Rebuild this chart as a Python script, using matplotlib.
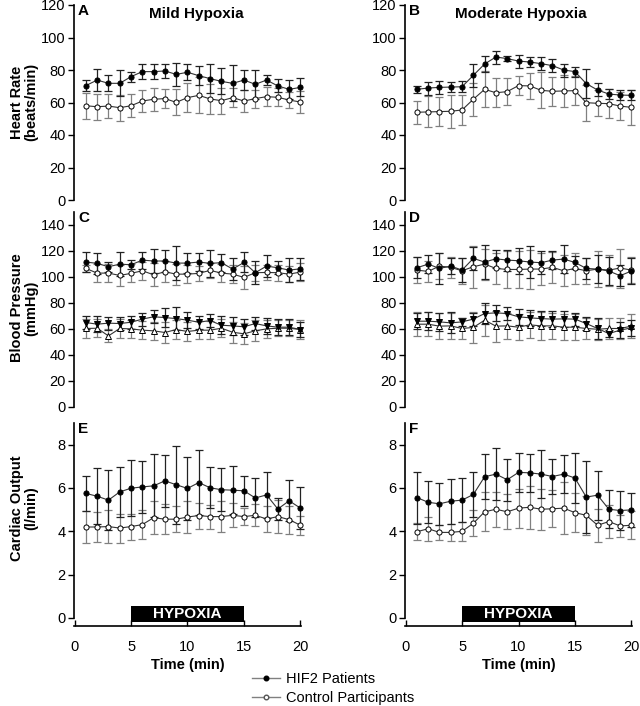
import matplotlib
matplotlib.use("Agg")
import matplotlib.pyplot as plt
from matplotlib.lines import Line2D
import numpy as np

plt.rcParams['font.family'] = ['Liberation Sans', 'DejaVu Sans']

time = list(range(1, 21))

# Heart rate (beats/min)
hr_mild_hif2 = [70.4, 73.8, 71.8, 71.8, 75.9, 79, 79, 79.4, 77.3, 78.6, 76.5, 74.7, 73, 71.8, 73.8, 71.2, 73.8, 70.2, 68.1, 69.3]
hr_mild_hif2_err = [3.5, 7, 5, 8, 3, 4.5, 4.5, 4.5, 7, 5, 6, 9, 8, 11, 6, 9, 3, 4, 6, 5.5]
hr_mild_ctrl = [58, 57.4, 57.8, 56.8, 58, 60.9, 62, 62.4, 60.1, 63, 64.4, 62.2, 61.1, 63, 60.9, 62.4, 63.6, 63.2, 61.5, 60.3]
hr_mild_ctrl_err = [8, 8, 7.5, 8, 7, 7, 7, 6, 8, 9, 11, 9, 8, 6, 7, 5.5, 6, 5.5, 5, 7]
hr_mod_hif2 = [68.1, 68.9, 69.3, 69.5, 69.7, 76.7, 83.7, 88, 87, 85.5, 84.9, 83.9, 82.7, 80, 79, 71.6, 67.7, 65.2, 64.6, 64.4]
hr_mod_hif2_err = [2, 4, 4, 3, 3.5, 7, 5, 4, 1.5, 4, 3, 4, 4, 4, 3, 9, 4, 3, 3, 3]
hr_mod_ctrl = [54, 54.2, 54.4, 54.6, 55.4, 62, 68.1, 66, 66.7, 70.4, 70.2, 67.5, 66.9, 67.1, 67.3, 59.9, 59.5, 59.3, 57.8, 57]
hr_mod_ctrl_err = [7, 9.5, 9, 10, 9, 10, 11, 9, 8.5, 6, 8, 11, 9, 10, 9, 11, 8, 9, 8.5, 11]

# Blood pressure (mmHg)
sbp_mild_hif2 = [111.5, 110.5, 107.9, 109.9, 109.4, 113, 112.3, 112.3, 110.7, 110.7, 111.5, 110.5, 111, 106.1, 111.2, 103.3, 108.4, 107.1, 105.3, 106.3]
sbp_mild_hif2_err = [8, 8, 4, 9.5, 3.5, 6.5, 9, 8.5, 13, 8, 7, 10.5, 7, 8.7, 7.7, 9, 8.5, 5, 9, 8.7]
sbp_mild_ctrl = [106.6, 103, 103, 101.2, 102.8, 104.8, 101.7, 104, 102.2, 102.2, 102.8, 105.1, 103, 102.2, 99.7, 103.3, 103.5, 103.3, 102.2, 103.8]
sbp_mild_ctrl_err = [3, 7, 7, 8, 7, 7, 9, 8, 8, 7, 6, 6, 7, 7, 9, 6, 6, 6, 6, 7]
dbp_mild_hif2 = [65, 63.7, 64.5, 64.2, 65.2, 67.6, 69.4, 68.8, 68, 66.8, 65.2, 66.5, 62.9, 62.4, 61.7, 64.2, 62.4, 61.4, 61.4, 59.6]
dbp_mild_hif2_err = [5, 6, 5, 5, 5, 5, 5, 7, 9, 6, 5, 5, 7, 7, 6, 5, 6, 6, 6, 6]
dbp_mild_ctrl = [60.4, 60.6, 54.7, 60.4, 60.1, 59.1, 58.6, 57.3, 59.6, 58.1, 59.1, 59.1, 60.6, 57.5, 56.3, 58.6, 60.1, 60.6, 60.6, 59.6]
dbp_mild_ctrl_err = [7, 7, 5, 7, 7, 7, 7, 8, 7, 7, 7, 7, 7, 8, 8, 8, 7, 6, 6, 7]
sbp_mod_hif2 = [107.1, 109.9, 106.6, 108.4, 105.3, 114.3, 111.5, 114, 113, 112.5, 111.5, 111, 113, 113.8, 111.2, 106.6, 106.1, 104.6, 101, 104.6]
sbp_mod_hif2_err = [8, 7, 12, 6, 9, 9, 13, 7, 8, 10, 12, 9, 7, 11, 5, 8, 11, 11, 8, 10]
sbp_mod_ctrl = [105.3, 104.3, 108.4, 107.4, 104.8, 107.9, 109.9, 106.6, 105.8, 105.8, 106.1, 106.1, 107.4, 104.8, 106.6, 104.8, 106.1, 105.3, 106.9, 105.3]
sbp_mod_ctrl_err = [10, 8, 10, 8, 10, 16, 12, 12, 14, 14, 15, 12, 12, 12, 12, 10, 14, 12, 15, 10]
dbp_mod_hif2 = [66, 66, 65.5, 64.7, 65.5, 67.6, 71.9, 72.4, 71.9, 69.4, 68.6, 68, 67.6, 67.8, 67.6, 64.2, 60.4, 56.5, 59.1, 60.9]
dbp_mod_hif2_err = [6, 7, 7, 8, 3, 5, 8, 6, 5, 6, 6, 6, 6, 6, 5, 5, 8, 3, 6, 6]
dbp_mod_ctrl = [63.7, 63.7, 62.2, 62.4, 60.4, 61.2, 66.8, 62.2, 62.4, 61.4, 63.2, 62.4, 62.4, 61.4, 61.4, 60.4, 59.8, 60.4, 60.4, 62.2]
dbp_mod_ctrl_err = [9, 9, 10, 10, 8, 12, 12, 12, 10, 10, 10, 11, 10, 10, 10, 8, 8, 8, 8, 9]

# Cardiac output (l/min)
co_mild_hif2 = [5.75, 5.62, 5.44, 5.82, 5.99, 6.05, 6.10, 6.33, 6.15, 5.98, 6.25, 6.01, 5.92, 5.90, 5.87, 5.54, 5.68, 5.03, 5.41, 5.07]
co_mild_hif2_err = [0.8, 1.3, 1.4, 1.15, 1.3, 1.2, 1.45, 1.2, 1.8, 1.45, 1.5, 0.95, 1.0, 1.1, 0.7, 0.9, 1.05, 0.5, 0.95, 0.97]
co_mild_ctrl = [4.2, 4.2, 4.22, 4.15, 4.22, 4.31, 4.63, 4.56, 4.56, 4.66, 4.73, 4.68, 4.68, 4.74, 4.68, 4.74, 4.57, 4.68, 4.54, 4.28]
co_mild_ctrl_err = [0.75, 0.7, 0.78, 0.67, 0.6, 0.67, 0.75, 0.7, 0.6, 0.75, 0.6, 0.55, 0.7, 0.55, 0.4, 0.5, 0.6, 0.75, 0.65, 0.45]
co_mod_hif2 = [5.56, 5.34, 5.27, 5.39, 5.44, 5.70, 6.52, 6.64, 6.38, 6.72, 6.70, 6.64, 6.53, 6.64, 6.46, 5.58, 5.67, 5.02, 4.96, 4.99]
co_mod_hif2_err = [1.2, 0.96, 0.96, 1.03, 1.02, 1.03, 1.05, 1.2, 0.96, 0.9, 0.87, 1.1, 0.8, 0.88, 1.17, 1.68, 1.13, 0.88, 0.9, 0.8]
co_mod_ctrl = [3.98, 4.12, 3.95, 3.95, 4.0, 4.37, 4.9, 5.02, 4.9, 5.07, 5.11, 5.02, 5.04, 5.07, 4.86, 4.74, 4.28, 4.45, 4.25, 4.28]
co_mod_ctrl_err = [0.4, 0.55, 0.35, 0.4, 0.45, 0.6, 0.9, 0.8, 0.8, 0.9, 1.0, 0.95, 0.85, 1.2, 0.9, 0.9, 0.75, 0.75, 0.5, 0.65]

hypoxia_start, hypoxia_end = 5, 15

W, H = 640, 706
fig = plt.figure(figsize=(W / 100, H / 100), dpi=100)

def ax_px(left, top, right, bottom):
    return fig.add_axes([left / W, 1 - bottom / H, (right - left) / W, (bottom - top) / H])

FS = 10.5
LINE_C = '#333333'

def series(ax, y, err, filled, marker, ecolor):
    ax.errorbar(time, y, yerr=err, fmt='none', ecolor=ecolor, elinewidth=0.9,
                capsize=2.6, capthick=0.9, zorder=2, clip_on=False)
    ax.plot(time, y, color=LINE_C, lw=0.8, marker=marker, ms=3.7 if marker == 'o' else 4.0,
            mfc='black' if filled else 'white', mec='black', mew=0.7, zorder=3, clip_on=False)

def style(ax, ylim, ticks, bottom_axis):
    ax.set_xlim(-0.05, 20.05)
    ax.set_ylim(*ylim)
    ax.set_yticks(ticks)
    for s in ['top', 'right']:
        ax.spines[s].set_visible(False)
    ax.spines['left'].set_linewidth(1.2)
    ax.spines['left'].set_bounds(max(0, ylim[0]), ylim[1])
    ax.tick_params(axis='y', direction='out', length=4, width=1.0, labelsize=FS, pad=2)
    if bottom_axis:
        ax.spines['bottom'].set_linewidth(1.2)
        ax.set_xticks([0, 5, 10, 15, 20])
        ax.tick_params(axis='x', direction='in', length=4, width=1.0, labelsize=FS, pad=10)
        ax.set_xlabel('Time (min)', fontsize=FS, fontweight='bold', labelpad=3)
        ax.spines['left'].set_bounds(0, ylim[1])
    else:
        ax.spines['bottom'].set_visible(False)
        ax.set_xticks([])
    ax.patch.set_alpha(0)

cols = [(74, 301), (405, 632)]
rows = [(5, 200), (212, 407), (423, 626)]

axes = {}
for ci, (l, r) in enumerate(cols):
    for ri, (t, b) in enumerate(rows):
        axes[(ri, ci)] = ax_px(l, t, r, b)

# Row 1: heart rate
for ci, (h, he, c, ce) in enumerate([(hr_mild_hif2, hr_mild_hif2_err, hr_mild_ctrl, hr_mild_ctrl_err),
                                     (hr_mod_hif2, hr_mod_hif2_err, hr_mod_ctrl, hr_mod_ctrl_err)]):
    ax = axes[(0, ci)]
    series(ax, c, ce, False, 'o', '#808080')
    series(ax, h, he, True, 'o', '#222222')
    style(ax, (0, 120), range(0, 121, 20), False)

# Row 2: blood pressure
bp_sets = [(sbp_mild_hif2, sbp_mild_hif2_err, sbp_mild_ctrl, sbp_mild_ctrl_err,
            dbp_mild_hif2, dbp_mild_hif2_err, dbp_mild_ctrl, dbp_mild_ctrl_err),
           (sbp_mod_hif2, sbp_mod_hif2_err, sbp_mod_ctrl, sbp_mod_ctrl_err,
            dbp_mod_hif2, dbp_mod_hif2_err, dbp_mod_ctrl, dbp_mod_ctrl_err)]
for ci, (sh, she, sc, sce, dh, dhe, dc, dce) in enumerate(bp_sets):
    ax = axes[(1, ci)]
    series(ax, sc, sce, False, 'o', '#808080')
    series(ax, sh, she, True, 'o', '#222222')
    series(ax, dc, dce, False, '^', '#808080')
    series(ax, dh, dhe, True, 'v', '#222222')
    style(ax, (0, 150), range(0, 141, 20), False)

# Row 3: cardiac output
for ci, (h, he, c, ce) in enumerate([(co_mild_hif2, co_mild_hif2_err, co_mild_ctrl, co_mild_ctrl_err),
                                     (co_mod_hif2, co_mod_hif2_err, co_mod_ctrl, co_mod_ctrl_err)]):
    ax = axes[(2, ci)]
    series(ax, c, ce, False, 'o', '#808080')
    series(ax, h, he, True, 'o', '#222222')
    style(ax, (-0.37, 9), range(0, 9, 2), True)
    ax.fill_between([hypoxia_start, hypoxia_end], -0.2, 0.55, color='black', lw=0, zorder=1)
    ax.text((hypoxia_start + hypoxia_end) / 2, 0.17, 'HYPOXIA', color='white', fontsize=11,
            fontweight='bold', ha='center', va='center', zorder=4)

# Panel letters and titles
letters = ['A', 'B', 'C', 'D', 'E', 'F']
i = 0
for ri, (t, b) in enumerate(rows):
    for ci, (l, r) in enumerate(cols):
        fig.text((l + 4) / W, 1 - (t - 1) / H, letters[i], fontsize=11, fontweight='bold',
                 ha='left', va='top')
        i += 1

fig.text(196 / W, 1 - 14 / H, 'Mild Hypoxia', fontsize=11, fontweight='bold', ha='center', va='center')
fig.text(521 / W, 1 - 14 / H, 'Moderate Hypoxia', fontsize=11, fontweight='bold', ha='center', va='center')

ylabels = ['Heart Rate\n(beats/min)', 'Blood Pressure\n(mmHg)', 'Cardiac Output\n(l/min)']
ycent = [102, 308, 508]
for lab, yc in zip(ylabels, ycent):
    fig.text(24 / W, 1 - yc / H, lab, rotation=90, fontsize=FS, fontweight='bold',
             ha='center', va='center', linespacing=1.05)

handles = [Line2D([], [], color='#808080', lw=1.0, marker='o', ms=3.3, mfc='black', mec='black'),
           Line2D([], [], color='#808080', lw=1.0, marker='o', ms=3.3, mfc='white', mec='#555555')]
fig.legend(handles, ['HIF2 Patients', 'Control Participants'], loc='upper left',
           bbox_to_anchor=(252 / W, 1 - 672 / H), frameon=False, fontsize=FS,
           handlelength=1.9, handletextpad=0.4, labelspacing=0.35, borderaxespad=0, borderpad=0)

fig.savefig('out.png', dpi=100)
